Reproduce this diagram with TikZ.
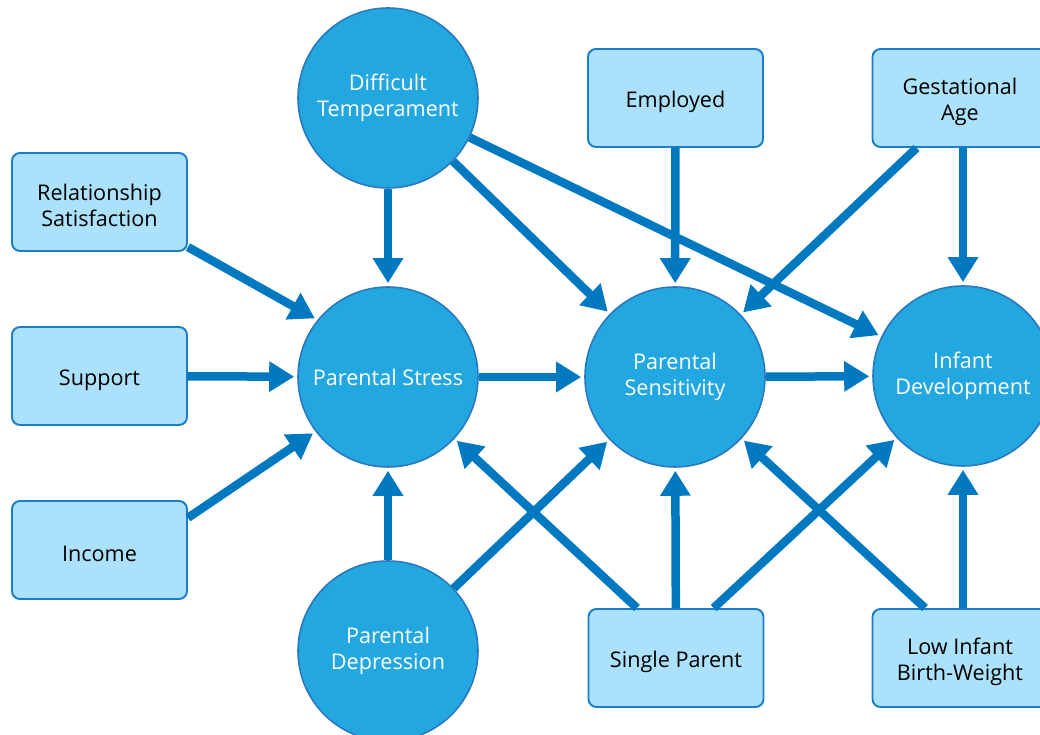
\documentclass[tikz,border=0pt]{standalone}
\usepackage{fontspec}
\setmainfont{Open Sans}
\usetikzlibrary{arrows.meta}
\definecolor{circfill}{HTML}{22A7E0}
\definecolor{circline}{HTML}{2A78BE}
\definecolor{boxfill}{HTML}{ABE1FA}
\definecolor{boxline}{HTML}{1B7DC5}
\definecolor{linkblue}{HTML}{0079C1}
\newcommand{\boxstrut}{\rule{0pt}{13.4pt}}

\begin{document}
\begin{tikzpicture}[
  var/.style={circle, fill=circfill, draw=circline, line width=0.9pt, minimum size=3.6cm, inner sep=0pt, text=white, align=center, font=\fontsize{12.3}{14.8}\selectfont},
  factor/.style={rectangle, rounded corners=0.16cm, fill=boxfill, draw=boxline, line width=1.1pt, minimum width=3.5cm, minimum height=1.96cm, inner sep=0pt, align=center, font=\fontsize{12.3}{14.8}\selectfont},
  link/.style={-{Triangle[length=0.5cm,width=0.58cm]}, draw=linkblue, line width=0.17cm, shorten >=0.06cm}
]
\useasboundingbox (0,0) rectangle (20.8,14.7);
\node [var] (dt) at (7.76,12.74) {Difficult\\Temperament};
\node [var] (ps) at (7.76,7.16) {Parental Stress};
\node [var] (sens) at (13.5,7.16) {Parental\\Sensitivity};
\node [var] (inf) at (19.26,7.18) {Infant\\Development};
\node [var] (pd) at (7.76,1.68) {Parental\\Depression};
\node [factor] (rs) at (1.99,10.66) {\boxstrut Relationship\\Satisfaction};
\node [factor] (sup) at (1.99,7.18) {\boxstrut Support};
\node [factor] (inc) at (1.99,3.7) {\boxstrut Income};
\node [factor] (emp) at (13.51,12.74) {\boxstrut Employed};
\node [factor] (ga) at (19.2,12.74) {\boxstrut Gestational\\Age};
\node [factor] (sp) at (13.52,1.54) {\boxstrut Single Parent};
\node [factor] (lbw) at (19.2,1.54) {\boxstrut Low Infant\\Birth-Weight};
\draw [link] (rs.-27) -- (ps.141); \draw [link] (sup) -- (ps); \draw [link] (inc.20) -- (ps.217);
\draw [link] (dt) -- (ps); \draw [link] (dt) -- (sens); \draw [link] (dt) -- (inf);
\draw [link] (pd) -- (ps); \draw [link] (pd) -- (sens);
\draw [link] (ps) -- (sens); \draw [link] (sens) -- (inf);
\draw [link] (emp) -- (sens);
\draw [link] (ga.229) -- (sens); \draw [link] (ga.south -| inf) -- (inf);
\draw [link] (sp.128) -- (ps); \draw [link] (sp) -- (sens); \draw [link] (sp.53) -- (inf);
\draw [link] (lbw.125) -- (sens); \draw [link] (lbw.north -| inf) -- (inf);
\end{tikzpicture}
\end{document}
